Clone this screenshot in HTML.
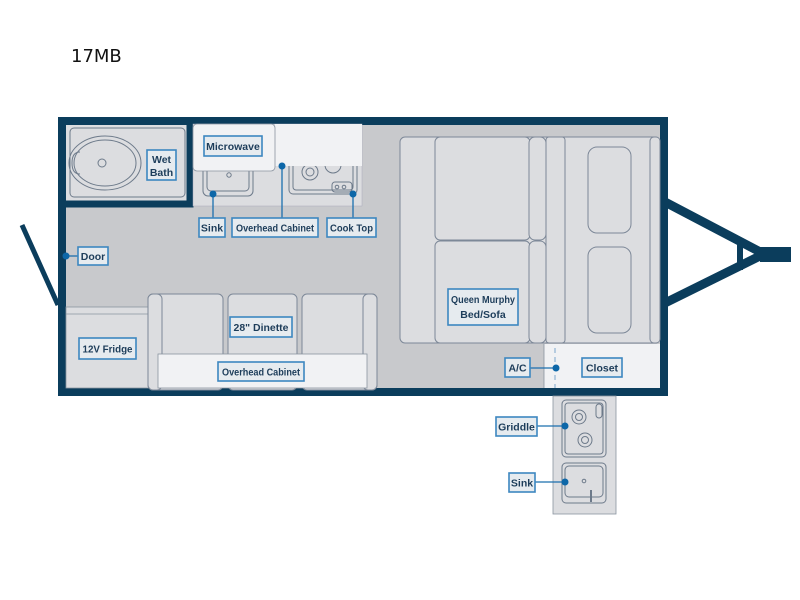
<!DOCTYPE html>
<html><head><meta charset="utf-8"><style>
html,body{margin:0;padding:0;background:#fff;width:800px;height:600px;overflow:hidden}
svg{display:block}
.l{fill:#e6ebef;stroke:#3d87c0;stroke-width:1.6}
.t{font-family:"Liberation Sans",sans-serif;font-weight:bold;font-size:10.5px;fill:#1d3d5a}
.o{fill:none;stroke:#6d7a8a;stroke-width:1}
.c{stroke:#1b6fae;stroke-width:1.3;fill:none}
.d{fill:#0d67a8}
</style></head><body>
<svg width="800" height="600" viewBox="0 0 800 600">
<text x="71" y="62" font-family="'DejaVu Sans','Liberation Sans',sans-serif" font-size="18" fill="#111">17MB</text>
<!-- hitch -->
<g stroke="#0b3d5c" fill="none">
<line x1="665" y1="202" x2="766" y2="255" stroke-width="9"/>
<line x1="665" y1="303" x2="766" y2="253" stroke-width="9"/>
<line x1="740" y1="238" x2="740" y2="270" stroke-width="6"/>
</g>
<rect x="760" y="247" width="31" height="15" fill="#0b3d5c"/>
<!-- door -->
<line x1="22" y1="225" x2="58" y2="305" stroke="#0b3d5c" stroke-width="5"/>
<!-- body -->
<rect x="62" y="121" width="602" height="271" fill="#c8c9cc" stroke="#0b3d5c" stroke-width="8"/>
<!-- bath -->
<rect x="66" y="125" width="124" height="79" fill="#dcdde0"/>
<path d="M190 125 V204 H66" stroke="#0b3d5c" stroke-width="7" fill="none"/>
<rect x="70" y="128" width="115" height="69" rx="4" class="o"/>
<ellipse cx="105" cy="163" rx="36" ry="27" class="o"/>
<ellipse cx="105" cy="163" rx="31" ry="23" class="o"/>
<path d="M80 152 Q72 152 72 163 Q72 174 80 174" class="o"/>
<circle cx="102" cy="163" r="4" class="o"/>
<rect x="147" y="150" width="29" height="30" class="l"/>
<text class="t" x="161.5" y="163" text-anchor="middle">Wet</text>
<text class="t" x="161.5" y="176" text-anchor="middle">Bath</text>
<!-- kitchen counter -->
<rect x="193" y="124" width="169" height="82" fill="#dcdde0" stroke="#aab" stroke-width="0.5"/>
<rect x="203" y="160" width="50" height="36" rx="5" class="o"/>
<rect x="207" y="160" width="42" height="31" rx="4" class="o"/>
<circle cx="229" cy="175" r="2.2" class="o"/>
<rect x="289" y="150" width="68" height="44" rx="4" class="o"/>
<rect x="293" y="150" width="60" height="40" rx="3" class="o"/>
<circle cx="310" cy="172" r="8" class="o"/><circle cx="310" cy="172" r="4" class="o"/>
<circle cx="333" cy="165" r="8" class="o"/>
<rect x="332" y="182" width="20" height="10" rx="3" class="o"/>
<circle cx="337" cy="187" r="1.8" class="o"/><circle cx="344" cy="187" r="1.8" class="o"/>
<rect x="275" y="124" width="87" height="42" fill="#f1f2f4"/>
<rect x="193" y="124" width="82" height="47" rx="4" fill="#f1f2f4" stroke="#8a94a0" stroke-width="0.8"/>
<rect x="204" y="136" width="58" height="20" class="l"/>
<text class="t" x="233" y="150" text-anchor="middle">Microwave</text>
<!-- callouts -->
<path d="M213 194 V218" class="c"/><circle cx="213" cy="194" r="3.5" class="d"/>
<path d="M282 166 V218" class="c"/><circle cx="282" cy="166" r="3.5" class="d"/>
<path d="M353 194 V218" class="c"/><circle cx="353" cy="194" r="3.5" class="d"/>
<rect x="199" y="218" width="26" height="19" class="l"/><text class="t" x="212" y="231.5" text-anchor="middle">Sink</text>
<rect x="232" y="218" width="86" height="19" class="l"/><text class="t" x="275" y="231.5" text-anchor="middle" textLength="78" lengthAdjust="spacingAndGlyphs">Overhead Cabinet</text>
<rect x="327" y="218" width="49" height="19" class="l"/><text class="t" x="351.5" y="231.5" text-anchor="middle" textLength="43" lengthAdjust="spacingAndGlyphs">Cook Top</text>
<path d="M66 256 H78" class="c"/><circle cx="66" cy="256" r="3.5" class="d"/>
<rect x="78" y="247" width="30" height="18" class="l"/><text class="t" x="93" y="260" text-anchor="middle">Door</text>
<!-- fridge -->
<rect x="66" y="307" width="83" height="81" fill="#dcdde0" stroke="#8a94a0" stroke-width="0.8"/>
<line x1="66" y1="314" x2="149" y2="314" stroke="#8a94a0" stroke-width="0.8"/>
<rect x="79" y="338" width="57" height="21" class="l"/><text class="t" x="107.5" y="352.5" text-anchor="middle" textLength="50" lengthAdjust="spacingAndGlyphs">12V Fridge</text>
<!-- dinette -->
<g fill="#dcdde0" stroke="#7d8898" stroke-width="1">
<rect x="148" y="294" width="75" height="96" rx="5"/>
<rect x="148" y="294" width="14" height="96" rx="5"/>
<rect x="228" y="294" width="69" height="96" rx="5"/>
<rect x="302" y="294" width="75" height="96" rx="5"/>
<rect x="363" y="294" width="14" height="96" rx="5"/>
</g>
<rect x="158" y="354" width="209" height="34" fill="#f1f2f4" stroke="#8a94a0" stroke-width="0.8"/>
<rect x="230" y="317" width="62" height="20" class="l"/><text class="t" x="261" y="331" text-anchor="middle" textLength="55" lengthAdjust="spacingAndGlyphs">28" Dinette</text>
<rect x="218" y="362" width="86" height="19" class="l"/><text class="t" x="261" y="375.5" text-anchor="middle" textLength="78" lengthAdjust="spacingAndGlyphs">Overhead Cabinet</text>
<!-- bed -->
<g fill="#dcdde0" stroke="#7d8898" stroke-width="1">
<rect x="400" y="137" width="260" height="206" rx="5"/>
<rect x="435" y="137" width="95" height="103" rx="5"/>
<rect x="435" y="241" width="95" height="102" rx="5"/>
<rect x="529" y="137" width="17" height="103" rx="6"/>
<rect x="529" y="241" width="17" height="102" rx="6"/>
<rect x="546" y="137" width="19" height="206" rx="3"/>
<rect x="588" y="147" width="43" height="86" rx="9"/>
<rect x="588" y="247" width="43" height="86" rx="9"/>
<rect x="650" y="137" width="10" height="206" rx="4"/>
</g>
<rect x="448" y="289" width="70" height="36" class="l"/>
<text class="t" x="483" y="303" text-anchor="middle" textLength="64" lengthAdjust="spacingAndGlyphs">Queen Murphy</text>
<text class="t" x="483" y="318" text-anchor="middle">Bed/Sofa</text>
<rect x="544" y="344" width="116" height="44" fill="#f1f2f4"/>
<line x1="544" y1="344" x2="544" y2="388" stroke="#8a94a0" stroke-width="0.8"/>
<line x1="555" y1="348" x2="555" y2="388" stroke="#7aa7cc" stroke-width="1" stroke-dasharray="5,4"/>
<path d="M530 368 H556" class="c"/><circle cx="556" cy="368" r="3.5" class="d"/>
<rect x="505" y="358" width="25" height="19" class="l"/><text class="t" x="517.5" y="371.5" text-anchor="middle">A/C</text>
<rect x="582" y="358" width="40" height="19" class="l"/><text class="t" x="602" y="371.5" text-anchor="middle">Closet</text>
<!-- outdoor kitchen -->
<rect x="553" y="396" width="63" height="118" fill="#dcdde0" stroke="#8a94a0" stroke-width="0.8"/>
<rect x="562" y="400" width="44" height="57" rx="4" class="o"/>
<rect x="565" y="403" width="38" height="51" rx="3" class="o"/>
<circle cx="579" cy="417" r="7" class="o"/><circle cx="579" cy="417" r="3.5" class="o"/>
<circle cx="585" cy="440" r="7" class="o"/><circle cx="585" cy="440" r="3.5" class="o"/>
<rect x="596" y="404" width="6" height="14" rx="3" class="o"/>
<rect x="562" y="463" width="44" height="40" rx="4" class="o"/>
<rect x="565" y="466" width="38" height="31" rx="4" class="o"/>
<circle cx="584" cy="481" r="1.8" class="o"/>
<line x1="591" y1="490" x2="591" y2="502" stroke="#6d7a8a" stroke-width="2"/>
<path d="M537 426 H565" class="c"/><circle cx="565" cy="426" r="3.5" class="d"/>
<rect x="496" y="417" width="41" height="19" class="l"/><text class="t" x="516.5" y="430.5" text-anchor="middle">Griddle</text>
<path d="M535 482 H565" class="c"/><circle cx="565" cy="482" r="3.5" class="d"/>
<rect x="509" y="473" width="26" height="19" class="l"/><text class="t" x="522" y="486.5" text-anchor="middle">Sink</text>
</svg>
</body></html>
